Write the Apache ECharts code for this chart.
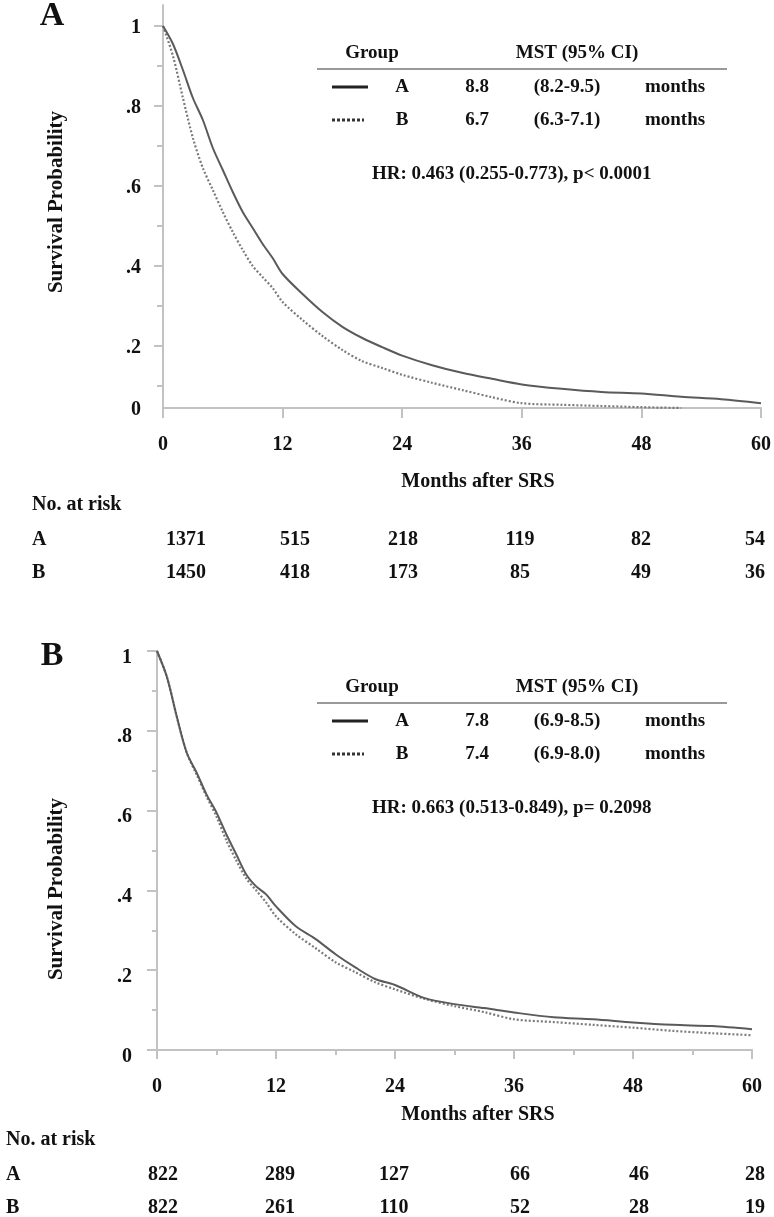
<!DOCTYPE html>
<html>
<head>
<meta charset="utf-8">
<script src="https://cdn.jsdelivr.net/npm/echarts@6/dist/echarts.min.js"></script>
<style>
  html, body { margin: 0; padding: 0; background: #fff; }
  #main { width: 774px; height: 1217px; }
</style>
</head>
<body>
<div id="main"></div>
<script>
// ---- data ----
var months = [0, 1, 2, 3, 4, 5, 6, 7, 8, 9, 10, 11, 12, 14, 16, 18, 20, 22, 24, 27, 30, 33, 36, 40, 44, 48, 52, 56, 60];

// panel A (all patients)
var survA1 = [1.0, 0.955, 0.89, 0.82, 0.765, 0.695, 0.64, 0.585, 0.535, 0.495, 0.455, 0.42, 0.38, 0.33, 0.285, 0.248, 0.22, 0.197, 0.176, 0.152, 0.133, 0.118, 0.104, 0.093, 0.085, 0.081, 0.073, 0.067, 0.057];
var survB1 = [1.0, 0.925, 0.82, 0.72, 0.645, 0.59, 0.535, 0.485, 0.44, 0.40, 0.372, 0.345, 0.31, 0.265, 0.225, 0.19, 0.162, 0.145, 0.128, 0.108, 0.09, 0.072, 0.057, 0.053, 0.05, 0.047, 0.045];

// panel B (matched)
var survA2 = [1.0, 0.935, 0.835, 0.745, 0.695, 0.64, 0.595, 0.54, 0.49, 0.44, 0.41, 0.39, 0.36, 0.31, 0.278, 0.24, 0.207, 0.178, 0.163, 0.13, 0.115, 0.105, 0.094, 0.082, 0.077, 0.069, 0.063, 0.06, 0.052];
var survB2 = [1.0, 0.935, 0.835, 0.745, 0.69, 0.635, 0.585, 0.525, 0.475, 0.43, 0.40, 0.37, 0.335, 0.29, 0.255, 0.22, 0.195, 0.17, 0.152, 0.128, 0.11, 0.095, 0.077, 0.07, 0.063, 0.056, 0.048, 0.042, 0.037];

var riskMonths = [0, 12, 24, 36, 48, 60];
var riskA1 = [1371, 515, 218, 119, 82, 54];
var riskB1 = [1450, 418, 173, 85, 49, 36];
var riskA2 = [822, 289, 127, 66, 46, 28];
var riskB2 = [822, 261, 110, 52, 28, 19];

var groups = ['A', 'B'];
var mst1 = ['8.8', '6.7'];
var ci1 = ['(8.2-9.5)', '(6.3-7.1)'];
var mst2 = ['7.8', '7.4'];
var ci2 = ['(6.9-8.5)', '(6.9-8.0)'];
var hr1 = 'HR: 0.463 (0.255-0.773), p< 0.0001';
var hr2 = 'HR: 0.663 (0.513-0.849), p= 0.2098';

// ---- style ----
var FONT = '"Liberation Serif", "Times New Roman", serif';
var AXIS_COLOR = '#c2c2c2';
var TEXT = '#111';

function pairs(ts, vs) {
  var out = [];
  for (var i = 0; i < vs.length; i++) out.push([ts[i], vs[i]]);
  return out;
}
function fmtY(v) {
  if (v < 0.05) return '0';
  if (v === 1) return '1';
  return String(v).replace('0.', '.');
}

var chart = echarts.init(document.getElementById('main'));

var xLabel = { fontFamily: FONT, fontWeight: 'bold', fontSize: 20, color: TEXT, margin: 27 };
var axisLine = { show: true, lineStyle: { color: AXIS_COLOR, width: 2 } };
// 标签下移（rich padding）
function yLabel(margin, shift, custom) {
  var l = {
    margin: margin,
    formatter: function (v) { return '{a|' + fmtY(v) + '}'; },
    rich: { a: { fontFamily: FONT, fontWeight: 'bold', fontSize: 20, color: TEXT, padding: [shift, 0, 0, 0] } }
  };
  if (custom) l.customValues = custom;
  return l;
}

// 文字元素
var g = [];
function txt(s, x, y, opt) {
  opt = opt || {};
  g.push({
    type: 'text', x: x, y: y, rotation: opt.rotation || 0,
    style: {
      text: s, fill: TEXT,
      font: 'bold ' + (opt.size || 20) + 'px ' + FONT,
      align: opt.align || 'center', verticalAlign: 'middle'
    }
  });
}
function seg(x1, y1, x2, y2, stroke, w, dash) {
  g.push({
    type: 'line', shape: { x1: x1, y1: y1, x2: x2, y2: y2 },
    style: { stroke: stroke, lineWidth: w, lineDash: dash || null }
  });
}

// panel legends / stats tables
function statsTable(top, mst, ci, hr) {
  txt('Group', 372, top, { size: 19 });
  txt('MST (95% CI)', 577, top, { size: 19 });
  seg(317, top + 16, 727, top + 16, '#777', 1.5);
  for (var i = 0; i < groups.length; i++) {
    var y = top + 34 + i * 33;
    if (i === 0) seg(332, y, 368, y, '#222', 3);
    else seg(332, y, 364, y, '#333', 3, [3, 2]);
    txt(groups[i], 402, y, { size: 19 });
    txt(mst[i], 477, y, { size: 19 });
    txt(ci[i], 567, y, { size: 19 });
    txt('months', 675, y, { size: 19 });
  }
  txt(hr, 372, top + 121, { size: 19, align: 'left' });
}
statsTable(53, mst1, ci1, hr1);
statsTable(687, mst2, ci2, hr2);

// at-risk tables
var riskX1 = [186, 295, 403, 520, 641, 755];
var riskX2 = [163, 280, 394, 520, 639, 755];
function riskTable(left, top, xs, ra, rb) {
  txt('No. at risk', left, top, { align: 'left' });
  var rows = [ra, rb];
  for (var r = 0; r < 2; r++) {
    var y = top + 35 + r * 33;
    txt(groups[r], left, y, { align: 'left' });
    for (var i = 0; i < riskMonths.length; i++) txt(String(rows[r][i]), xs[i], y);
  }
}
riskTable(32, 505, riskX1, riskA1, riskB1);
riskTable(6, 1140, riskX2, riskA2, riskB2);

// titles, axis names
txt('A', 52, 16, { size: 34 });
txt('B', 52, 656, { size: 34 });
txt('Survival Probability', 57, 202, { size: 21, rotation: Math.PI / 2 });
txt('Survival Probability', 57, 889, { size: 21, rotation: Math.PI / 2 });
txt('Months after SRS', 478, 482);
txt('Months after SRS', 478, 1115);

var tickStyle = { color: AXIS_COLOR, width: 2 };

function curve(xi, yi, data, dotted) {
  return {
    type: 'line', xAxisIndex: xi, yAxisIndex: yi, showSymbol: false, clip: true,
    smooth: 0.3,
    data: data,
    lineStyle: dotted ? { color: '#7a7a7a', width: 2.2, type: [2, 2] } : { color: '#5a5a5a', width: 2 }
  };
}

var option = {
  animation: false,
  grid: [
    { left: 163, top: 5, width: 598, height: 403 },
    { left: 157, top: 651, width: 595, height: 399 }
  ],
  xAxis: [
    {
      gridIndex: 0, type: 'value', min: 0, max: 60, interval: 12,
      axisLine: axisLine, splitLine: { show: false },
      axisTick: { show: true, length: 10, lineStyle: tickStyle },
      axisLabel: xLabel
    },
    {
      gridIndex: 1, type: 'value', min: 0, max: 60, interval: 12,
      axisLine: axisLine, splitLine: { show: false },
      axisTick: { show: true, length: 9, lineStyle: tickStyle },
      minorTick: { show: true, splitNumber: 2, length: 5, lineStyle: tickStyle },
      minorSplitLine: { show: false },
      axisLabel: xLabel
    }
  ],
  yAxis: [
    {
      gridIndex: 0, type: 'value', position: 'left', min: 0.045, max: 1.0525,
      axisLine: axisLine, splitLine: { show: false },
      axisTick: { show: true, length: 9, customValues: [0.2, 0.4, 0.6, 0.8, 1], lineStyle: tickStyle },
      axisLabel: yLabel(22, 4, [0.045, 0.2, 0.4, 0.6, 0.8, 1])
    },
    {
      // minor ticks of panel A
      gridIndex: 0, type: 'value', position: 'left', offset: 0, min: 0.045, max: 1.0525,
      axisLine: { show: false }, splitLine: { show: false },
      axisTick: { show: true, length: 6, customValues: [0.1, 0.3, 0.5, 0.7, 0.9], lineStyle: tickStyle },
      axisLabel: { show: false }
    },
    {
      gridIndex: 1, type: 'value', min: 0, max: 1, interval: 0.2,
      axisLine: axisLine, splitLine: { show: false },
      axisTick: { show: true, length: 10, lineStyle: tickStyle },
      minorTick: { show: true, splitNumber: 2, length: 5, lineStyle: tickStyle },
      minorSplitLine: { show: false },
      axisLabel: yLabel(25, 13)
    }
  ],
  series: [
    curve(0, 0, pairs(months, survB1), true),
    curve(0, 0, pairs(months, survA1), false),
    curve(1, 2, pairs(months, survB2), true),
    curve(1, 2, pairs(months, survA2), false)
  ],
  graphic: g
};

chart.setOption(option);
</script>
</body>
</html>
